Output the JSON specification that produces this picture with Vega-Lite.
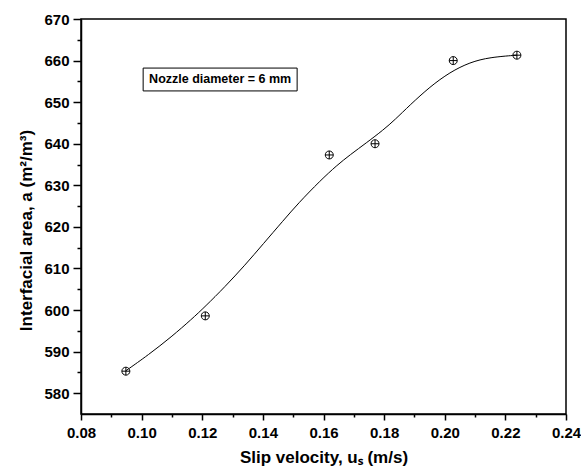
{
  "$schema": "https://vega.github.io/schema/vega-lite/v6.json",
  "width": 485,
  "height": 395,
  "autosize": {"type": "none"},
  "padding": {"left": 81, "top": 19, "right": 15, "bottom": 60},
  "background": "white",
  "config": {
    "view": {"stroke": "black", "strokeWidth": 1.5},
    "axis": {
      "grid": false,
      "domainColor": "black",
      "domainWidth": 1.5,
      "tickColor": "black",
      "tickWidth": 1.5,
      "labelFont": "Liberation Sans",
      "labelFontSize": 15,
      "labelFontWeight": "bold",
      "labelColor": "black",
      "titleFont": "Liberation Sans",
      "titleFontSize": 17,
      "titleFontWeight": "bold",
      "titleColor": "black",
      "labelOverlap": false,
      "labelFlush": false,
      "labelBound": false
    }
  },
  "datasets": {
    "points": [
      {"x": 0.0948, "y": 585.3},
      {"x": 0.121, "y": 598.6},
      {"x": 0.1619, "y": 637.3},
      {"x": 0.177, "y": 640.0},
      {"x": 0.2028, "y": 660.0},
      {"x": 0.2238, "y": 661.3}
    ],
    "curve": [
      {"x": 0.0948, "y": 585.4},
      {"x": 0.1022, "y": 589.2},
      {"x": 0.1099, "y": 593.6},
      {"x": 0.1165, "y": 597.8},
      {"x": 0.1209, "y": 600.8},
      {"x": 0.1275, "y": 605.6},
      {"x": 0.1341, "y": 610.8},
      {"x": 0.1401, "y": 615.9},
      {"x": 0.1467, "y": 621.5},
      {"x": 0.1517, "y": 625.7},
      {"x": 0.1589, "y": 631.1},
      {"x": 0.1644, "y": 634.8},
      {"x": 0.1687, "y": 637.3},
      {"x": 0.1743, "y": 640.3},
      {"x": 0.1797, "y": 643.3},
      {"x": 0.1836, "y": 645.8},
      {"x": 0.1885, "y": 649.3},
      {"x": 0.1951, "y": 653.7},
      {"x": 0.2017, "y": 657.2},
      {"x": 0.2083, "y": 659.6},
      {"x": 0.2149, "y": 660.8},
      {"x": 0.2238, "y": 661.3}
    ],
    "box": [{"x": 0.1005, "y": 652.7, "x2": 0.1513, "y2": 658.2}],
    "label": [{"x": 0.1259, "y": 655.45, "text": "Nozzle diameter = 6 mm"}]
  },
  "encoding": {
    "x": {
      "field": "x",
      "type": "quantitative",
      "scale": {"domain": [0.08, 0.24], "nice": false, "zero": false},
      "axis": {
        "title": "Slip velocity, uₛ (m/s)",
        "values": [0.08, 0.09, 0.1, 0.11, 0.12, 0.13, 0.14, 0.15, 0.16, 0.17, 0.18, 0.19, 0.2, 0.21, 0.22, 0.23, 0.24],
        "labelExpr": "round(datum.value*100) % 2 == 0 ? format(datum.value, '.2f') : ''",
        "tickSize": {"condition": {"test": "round(datum.value*100) % 2 == 0", "value": 6}, "value": 3},
        "labelPadding": 5,
        "titlePadding": 9
      }
    },
    "y": {
      "field": "y",
      "type": "quantitative",
      "scale": {"domain": [575, 670], "nice": false, "zero": false},
      "axis": {
        "title": "Interfacial area, a (m²/m³)",
        "values": [580, 585, 590, 595, 600, 605, 610, 615, 620, 625, 630, 635, 640, 645, 650, 655, 660, 665, 670],
        "labelExpr": "datum.value % 10 == 0 ? datum.label : ''",
        "tickSize": {"condition": {"test": "datum.value % 10 == 0", "value": 8}, "value": 4},
        "labelPadding": 4,
        "titlePadding": 8,
        "titleY": 211
      }
    }
  },
  "layer": [
    {
      "data": {"name": "box"},
      "mark": {"type": "rect", "fill": "white", "stroke": "black", "strokeWidth": 1},
      "encoding": {"x2": {"field": "x2"}, "y2": {"field": "y2"}}
    },
    {
      "data": {"name": "label"},
      "mark": {"type": "text", "font": "Liberation Sans", "fontSize": 12.5, "fontWeight": "bold", "align": "center", "baseline": "middle", "color": "black"},
      "encoding": {"text": {"field": "text"}}
    },
    {
      "data": {"name": "curve"},
      "mark": {"type": "line", "color": "black", "strokeWidth": 1, "interpolate": "basis"}
    },
    {
      "data": {"name": "points"},
      "mark": {"type": "point", "shape": "M-1,0A1,1,0,1,1,1,0A1,1,0,1,1,-1,0M-1,0H1M0,-1V1", "size": 64, "filled": false, "stroke": "black", "strokeWidth": 1, "opacity": 1}
    }
  ]
}
